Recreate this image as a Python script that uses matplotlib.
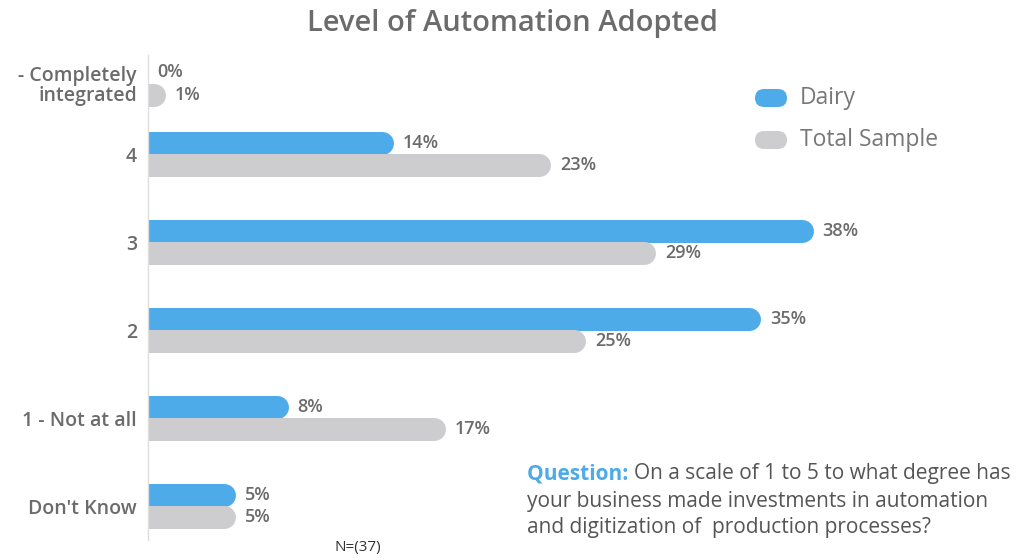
import numpy as np
import matplotlib
matplotlib.use("Agg")
import matplotlib.pyplot as plt
from matplotlib.patches import FancyBboxPatch

plt.rcParams['font.family'] = ['Open Sans', 'DejaVu Sans']

categories = ['- Completely\nintegrated', '4', '3', '2', '1 - Not at all', "Don't Know"]
dairy = [0, 14, 38, 35, 8, 5]
total = [1, 23, 29, 25, 17, 5]
series_names = ['Dairy', 'Total Sample']

BLUE = '#4cabe8'
GREY = '#cdcdcf'
TXT = '#6b6b6b'

fig = plt.figure(figsize=(10.24, 5.6), dpi=100)
# axes from x=148px, y=55..540px
ax = fig.add_axes([148 / 1024, 20 / 560, 852 / 1024, 485 / 560])

ypos = np.arange(len(categories), dtype=float)
ypos[0] = 0.2  # top group sits closer in the original
ax.set_ylim(5.386, -0.125)
ax.set_xlim(0, 852 / 17.5)

bar_px = 23
lw = bar_px * 0.72
r_data = (bar_px / 2) / 17.5   # half bar height in x data units
off = 0.13

for vals, col, dy in [(dairy, BLUE, -off), (total, GREY, off)]:
    for y, v in zip(ypos, vals):
        if v > 0:
            ax.plot([-2, v - r_data], [y + dy, y + dy], color=col, lw=lw,
                    solid_capstyle='round')
        ax.text(v + 0.55, y + dy, f'{v}%', va='center', ha='left',
                fontsize=13, fontweight='semibold', color=TXT)

ax.set_yticks(ypos)
ax.set_yticklabels(categories, fontsize=14, fontweight='semibold', color=TXT,
                   linespacing=1.0)
ax.tick_params(axis='y', length=0, pad=8)
ax.set_xticks([])
for s in ['top', 'right', 'bottom']:
    ax.spines[s].set_visible(False)
ax.spines['left'].set_color('#dddddd')
ax.spines['left'].set_linewidth(1)

fig.text(512 / 1024, 1 - 24 / 560, 'Level of Automation Adopted', ha='center', va='center',
         fontsize=21, fontweight='semibold', color=TXT)

# legend
for i, (name, col) in enumerate(zip(series_names, [BLUE, GREY])):
    yc = 1 - (98 + i * 42) / 560
    p = FancyBboxPatch((755 / 1024, yc - 9 / 560), 32 / 1024, 18 / 560,
                       boxstyle='round,pad=0,rounding_size=0.009',
                       mutation_aspect=1024 / 560,
                       transform=fig.transFigure, facecolor=col, edgecolor='none')
    fig.patches.append(p)
    fig.text(800 / 1024, yc, name, va='center', ha='left', fontsize=16.5, color='#777777')

# question note
fig.canvas.draw()
rend = fig.canvas.get_renderer()
qx, qy = 527 / 1024, 1 - 474 / 560
qs = 15
t = fig.text(qx, qy, 'Question: ', va='center', ha='left', fontsize=qs,
             fontweight='bold', color=BLUE)
bb = t.get_window_extent(rend)
fig.text(bb.x1 / 1024, qy, 'On a scale of 1 to 5 to what degree has', va='center',
         ha='left', fontsize=qs, color='#555555')
fig.text(qx, 1 - 501 / 560, 'your business made investments in automation',
         va='center', ha='left', fontsize=qs, color='#555555')
fig.text(qx, 1 - 528 / 560, 'and digitization of  production processes?',
         va='center', ha='left', fontsize=qs, color='#555555')

fig.text(358 / 1024, 1 - 547 / 560, 'N=(37)', ha='center', va='center',
         fontsize=11, color='#333333')

fig.savefig('out.png', dpi=100)
